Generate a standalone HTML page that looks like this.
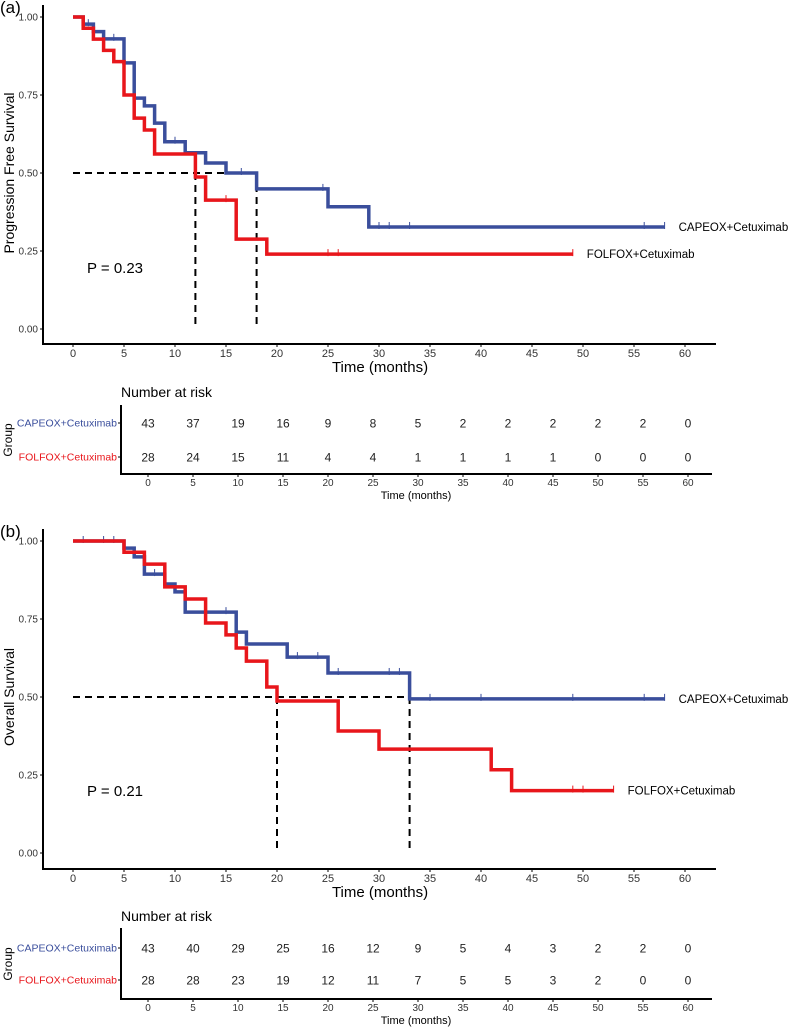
<!DOCTYPE html>
<html><head><meta charset="utf-8"><style>
body{margin:0;background:#fff}
svg{display:block;font-family:"Liberation Sans",Arial,sans-serif}
</style></head><body>
<svg id="fig" width="800" height="1028" xmlns="http://www.w3.org/2000/svg"></svg>
<script>
// ---- data ----
const timeTicks = [0,5,10,15,20,25,30,35,40,45,50,55,60];
const survTicks = [0,0.25,0.5,0.75,1];
const survTickLabels = ["0.00","0.25","0.50","0.75","1.00"];
// Panel a (PFS)
const pfsCapeT = [0,1,2,3,5,6,7,8,9,11,13,15,18,25,29,58];
const pfsCapeS = [1,0.977,0.953,0.93,0.853,0.74,0.715,0.66,0.60,0.565,0.532,0.50,0.449,0.392,0.327,0.327];
const pfsCapeCens = [1.5,4,10,16.5,24.5,30,31,33,56,58];
const pfsFolT = [0,1,2,3,4,5,6,7,8,12,13,16,19,49];
const pfsFolS = [1,0.964,0.929,0.893,0.857,0.75,0.676,0.638,0.561,0.487,0.413,0.288,0.24,0.24];
const pfsFolCens = [15,25,26,49];
const pfsMedians = [12,18];
const pfsRiskCape = [43,37,19,16,9,8,5,2,2,2,2,2,0];
const pfsRiskFol = [28,24,15,11,4,4,1,1,1,1,0,0,0];
// Panel b (OS)
const osCapeT = [0,5,6,7,9,10,11,16,17,21,25,33,58];
const osCapeS = [1,0.977,0.949,0.894,0.862,0.837,0.772,0.708,0.67,0.628,0.577,0.494,0.494];
const osCapeCens = [1,3,4,8,15,22,24,26,31,32,35,40,49,56,58];
const osFolT = [0,5,7,9,11,13,15,16,17,19,20,26,30,41,43,53];
const osFolS = [1,0.964,0.926,0.853,0.814,0.737,0.699,0.657,0.615,0.532,0.487,0.391,0.333,0.267,0.20,0.20];
const osFolCens = [49,50,53];
const osMedians = [20,33];
const osRiskCape = [43,40,29,25,16,12,9,5,4,3,2,2,0];
const osRiskFol = [28,28,23,19,12,11,7,5,5,3,2,0,0];

const NS="http://www.w3.org/2000/svg";
const svg=document.getElementById('fig');
const BLUE="#3A4E9C", RED="#E8161B";
function mk(tag,attrs,parent,text){const e=document.createElementNS(NS,tag);for(const k in attrs)e.setAttribute(k,attrs[k]);if(text!==undefined)e.textContent=text;(parent||svg).appendChild(e);return e;}
const X0=73, XS=10.2;
const xs=t=>X0+XS*t;

function panel(o){
  const g=mk('g',{});
  
  
  const ys=s=>o.y0-312*s;
  const pl=mk('text',{x:0,y:o.y1-4,'font-size':17,fill:'#000'},g,o.letter);
  
  const ya=mk('line',{x1:43,y1:o.y1-12,x2:43,y2:o.axisY,stroke:'#000','stroke-width':2},g);
  
  const xa=mk('line',{x1:42,y1:o.axisY,x2:716,y2:o.axisY,stroke:'#000','stroke-width':2},g);
  
  survTicks.forEach((s,i)=>{
    mk('line',{x1:40,x2:43,y1:ys(s),y2:ys(s),stroke:'#000','stroke-width':1},g);
    const t=mk('text',{x:38,y:ys(s)+3.5,'font-size':10,'text-anchor':'end',fill:'#333'},g,survTickLabels[i]);
    
  });
  timeTicks.forEach(tt=>{
    mk('line',{x1:xs(tt),x2:xs(tt),y1:o.axisY,y2:o.axisY+3,stroke:'#000','stroke-width':1},g);
    const t=mk('text',{x:xs(tt),y:o.axisY+13,'font-size':11,'text-anchor':'middle',fill:'#333'},g,tt);
    
  });
  const xt=mk('text',{x:380,y:o.axisY+28,'font-size':15,'text-anchor':'middle',fill:'#000'},g,'Time (months)');
  
  const yc=(o.y0+o.y1)/2;
  const yt=mk('text',{x:0,y:0,'font-size':14,'text-anchor':'middle',fill:'#000',transform:`translate(14,${yc}) rotate(-90)`},g,o.ytitle);
  
  const mx=Math.max(...o.medians);
  const mh=mk('line',{x1:xs(0),x2:xs(mx),y1:ys(0.5),y2:ys(0.5),stroke:'#000','stroke-width':2,'stroke-dasharray':'7,5'},g);
  
  o.medians.forEach(m=>{
    const v=mk('line',{x1:xs(m),x2:xs(m),y1:ys(0.5),y2:ys(0),stroke:'#000','stroke-width':2,'stroke-dasharray':'7,5'},g);
    
  });
  function curve(T,S,C,col,nm){
    let d=`M${xs(T[0])},${ys(S[0])}`;
    for(let i=1;i<T.length;i++){d+=` H${xs(T[i])} V${ys(S[i])}`;}
    const p=mk('path',{d:d,fill:'none',stroke:col,'stroke-width':3.5},g);
    
    C.forEach(c=>{
      let s=S[0];for(let i=0;i<T.length;i++){if(T[i]<=c)s=S[i];}
      const cm=mk('line',{x1:xs(c),x2:xs(c),y1:ys(s)-5,y2:ys(s)+2,stroke:col,'stroke-width':1},g);
      
    });
  }
  curve(o.capeT,o.capeS,o.capeC,BLUE,'capeox');
  curve(o.folT,o.folS,o.folC,RED,'folfox');
  const l1=mk('text',{x:xs(o.capeT[o.capeT.length-1])+14,y:ys(o.capeS[o.capeS.length-1])+4,'font-size':11.5,fill:'#000'},g,'CAPEOX+Cetuximab');
  
  const l2=mk('text',{x:xs(o.folT[o.folT.length-1])+14,y:ys(o.folS[o.folS.length-1])+4,'font-size':11.5,fill:'#000'},g,'FOLFOX+Cetuximab');
  
  const pv=mk('text',{x:87,y:o.pY,'font-size':15,fill:'#000'},g,o.pText);
  
  const tg=mk('g',{},g);
  
  const tx=i=>148+45*i;
  const nr=mk('text',{x:121,y:o.nrY,'font-size':14,fill:'#000'},tg,'Number at risk');
  
  mk('line',{x1:121,x2:121,y1:o.tTop,y2:o.tBot,stroke:'#000','stroke-width':2},tg);
  mk('line',{x1:120,x2:712,y1:o.tBot,y2:o.tBot,stroke:'#000','stroke-width':2},tg);
  [[o.r1,BLUE,'CAPEOX+Cetuximab',o.riskCape],[o.r2,RED,'FOLFOX+Cetuximab',o.riskFol]].forEach(([ry,col,lab,vals])=>{
    const rl=mk('text',{x:117,y:ry+3.5,'font-size':10.5,'text-anchor':'end',fill:col},tg,lab);
    
    mk('line',{x1:118,x2:121,y1:ry,y2:ry,stroke:'#000','stroke-width':1},tg);
    vals.forEach((v,i)=>{
      const c=mk('text',{x:tx(i),y:ry+4.5,'font-size':12,'text-anchor':'middle',fill:'#222'},tg,v);
      
    });
  });
  timeTicks.forEach((tt,i)=>{
    mk('line',{x1:tx(i),x2:tx(i),y1:o.tBot,y2:o.tBot+3,stroke:'#000','stroke-width':1},tg);
    const t=mk('text',{x:tx(i),y:o.tBot+12,'font-size':10,'text-anchor':'middle',fill:'#333'},tg,tt);
    
  });
  const tt2=mk('text',{x:416,y:o.tBot+25,'font-size':11,'text-anchor':'middle',fill:'#000'},tg,'Time (months)');
  
  const gl=mk('text',{x:0,y:0,'font-size':12,'text-anchor':'middle',fill:'#000',transform:`translate(12,${(o.r1+o.r2)/2}) rotate(-90)`},tg,'Group');
  
}

panel({name:'panel-a-pfs',letter:'(a)',y0:329,y1:17,axisY:344,ytitle:'Progression Free Survival',
  capeT:pfsCapeT,capeS:pfsCapeS,capeC:pfsCapeCens,folT:pfsFolT,folS:pfsFolS,folC:pfsFolCens,
  medians:pfsMedians,pText:'P = 0.23',pY:273,riskCape:pfsRiskCape,riskFol:pfsRiskFol,
  nrY:397,tTop:405,tBot:474,r1:423,r2:457});
panel({name:'panel-b-os',letter:'(b)',y0:853,y1:541,axisY:869,ytitle:'Overall Survival',
  capeT:osCapeT,capeS:osCapeS,capeC:osCapeCens,folT:osFolT,folS:osFolS,folC:osFolCens,
  medians:osMedians,pText:'P = 0.21',pY:796,riskCape:osRiskCape,riskFol:osRiskFol,
  nrY:921,tTop:928,tBot:999,r1:948,r2:980});
</script>
</body></html>
